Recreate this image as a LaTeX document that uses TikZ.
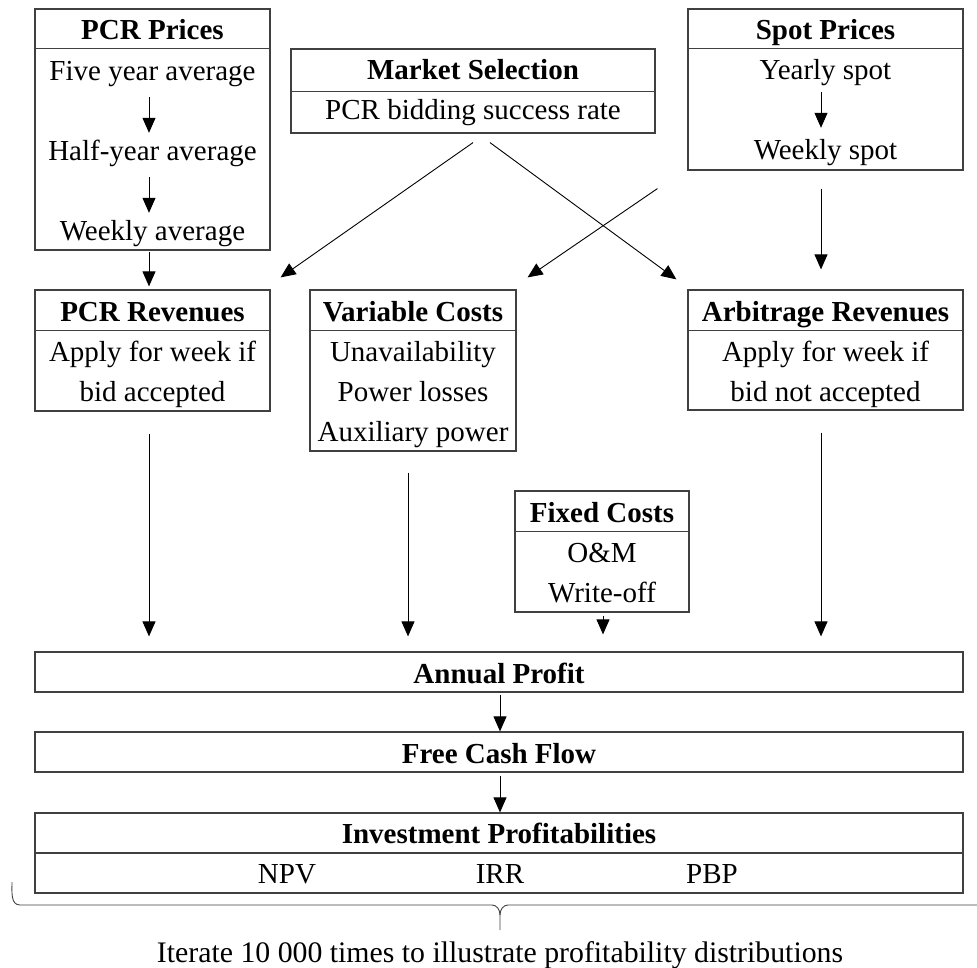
\documentclass[tikz,border=0pt]{standalone}
\usepackage{fontspec}
\setmainfont{Liberation Serif}
\usetikzlibrary{arrows.meta}

\begin{document}
\begin{tikzpicture}[x=1pt, y=1pt, font=\fontsize{29}{35}\selectfont]
    \tikzstyle{every node}+=[inner sep=0pt]
    \tikzstyle{box}=[draw=black!75, line width=1.2pt]
    \tikzstyle{rule}=[black!75, line width=1.2pt]
    \tikzstyle{txt}=[anchor=base, text height=20pt, text depth=7pt]
    \tikzstyle{head}=[txt, font=\fontsize{29}{35}\selectfont\bfseries]
    \tikzstyle{arr}=[black, line width=0.9pt, -{Triangle[length=15pt, width=13pt]}]
    \useasboundingbox (0,0) rectangle (977,-968);

    % price inputs
    \draw (152.5,-129.5) node[box, minimum width=235, minimum height=241] (pcrp) {};
    \draw [rule] ([yshift=-40]pcrp.north west) -- ([yshift=-40]pcrp.north east);
    \draw (152.5,-40) node[head] (pcrp-t) {PCR Prices};
    \draw (152.5,-81) node[txt] (pcrp-a) {Five year average};
    \draw (152.5,-161) node[txt] (pcrp-b) {Half-year average};
    \draw (152.5,-241) node[txt] (pcrp-c) {Weekly average};
    \draw [arr, shorten <=9, shorten >=8] ([xshift=-3.5]pcrp-a.south) -- ([xshift=-3.5]pcrp-b.north);
    \draw [arr, shorten <=9, shorten >=8] ([xshift=-3.5]pcrp-b.south) -- ([xshift=-3.5]pcrp-c.north);

    \draw (473,-91) node[box, minimum width=364, minimum height=84] (mkt) {};
    \draw [rule] ([yshift=-43]mkt.north west) -- ([yshift=-43]mkt.north east);
    \draw (473,-80) node[head] (mkt-t) {Market Selection};
    \draw (473,-120) node[txt] (mkt-a) {PCR bidding success rate};

    \draw (825.5,-89.5) node[box, minimum width=275, minimum height=161] (spot) {};
    \draw [rule] ([yshift=-40]spot.north west) -- ([yshift=-40]spot.north east);
    \draw (825.5,-40) node[head] (spot-t) {Spot Prices};
    \draw (825.5,-80) node[txt] (spot-a) {Yearly spot};
    \draw (825.5,-160) node[txt] (spot-b) {Weekly spot};
    \draw [arr, shorten <=5, shorten >=12] ([xshift=-4.5]spot-a.south) -- ([xshift=-4.5]spot-b.north);

    % revenues and costs
    \draw (152.5,-350.5) node[box, minimum width=235, minimum height=121] (pcrr) {};
    \draw [rule] ([yshift=-41]pcrr.north west) -- ([yshift=-41]pcrr.north east);
    \draw (152.5,-321) node[head] (pcrr-t) {PCR Revenues};
    \draw (152.5,-361) node[txt] (pcrr-a) {Apply for week if};
    \draw (152.5,-401) node[txt] (pcrr-b) {bid accepted};

    \draw (413,-370.5) node[box, minimum width=206, minimum height=161] (varc) {};
    \draw [rule] ([yshift=-41]varc.north west) -- ([yshift=-41]varc.north east);
    \draw (413,-321) node[head] (varc-t) {Variable Costs};
    \draw (413,-361) node[txt] (varc-a) {Unavailability};
    \draw (413,-401) node[txt] (varc-b) {Power losses};
    \draw (413,-441) node[txt] (varc-c) {Auxiliary power};

    \draw (825.5,-350) node[box, minimum width=275, minimum height=120] (arb) {};
    \draw [rule] ([yshift=-41]arb.north west) -- ([yshift=-41]arb.north east);
    \draw (825.5,-321) node[head] (arb-t) {Arbitrage Revenues};
    \draw (825.5,-361) node[txt] (arb-a) {Apply for week if};
    \draw (825.5,-401) node[txt] (arb-b) {bid not accepted};

    \draw (602,-551.5) node[box, minimum width=174, minimum height=121] (fixc) {};
    \draw [rule] ([yshift=-41]fixc.north west) -- ([yshift=-41]fixc.north east);
    \draw (602,-522) node[head] (fixc-t) {Fixed Costs};
    \draw (602,-562) node[txt] (fixc-a) {O\&M};
    \draw (602,-602) node[txt] (fixc-b) {Write-off};

    % results
    \draw (499,-672) node[box, minimum width=928, minimum height=40] (prof) {};
    \draw (499,-683) node[head] (prof-t) {Annual Profit};
    \draw (499,-752) node[box, minimum width=928, minimum height=40] (fcf) {};
    \draw (499,-763) node[head] (fcf-t) {Free Cash Flow};
    \draw (499,-853) node[box, minimum width=928, minimum height=80] (inv) {};
    \draw [rule] (inv.west) -- (inv.east);
    \draw (499,-843) node[head] (inv-t) {Investment Profitabilities};
    \draw (287,-883) node[txt] (npv) {NPV};
    \draw (500,-883) node[txt] (irr) {IRR};
    \draw (712,-883) node[txt] (pbp) {PBP};

    % connectors
    \draw [arr, shorten <=1, shorten >=3] ([xshift=-3.5]pcrp.south) -- ([xshift=-3.5]pcrr.north);
    \draw [arr, shorten <=18, shorten >=20] ([xshift=-4.5]spot.south) -- ([xshift=-4.5]arb.north);
    \draw [arr] ([yshift=-9]mkt.south) -- ([xshift=10, yshift=12]pcrr.north east);
    \draw [arr] ([xshift=17, yshift=-9]mkt.south) -- ([xshift=-11, yshift=10]arb.north west);
    \draw [arr] ([xshift=-30, yshift=-18]spot.south west) -- ([xshift=11, yshift=12]varc.north east);
    \draw [arr, shorten <=22, shorten >=15] ([xshift=-3.5]pcrr.south) -- ([xshift=-3.5]pcrr.south |- prof.north);
    \draw [arr, shorten <=21, shorten >=15] ([xshift=-5]varc.south) -- ([xshift=-5]varc.south |- prof.north);
    \draw [arr, shorten <=3, shorten >=17] ([xshift=1]fixc.south) -- ([xshift=1]fixc.south |- prof.north);
    \draw [arr, shorten <=22, shorten >=15] ([xshift=-4.5]arb.south) -- ([xshift=-4.5]arb.south |- prof.north);
    \draw [arr, shorten <=2] ([xshift=1]prof.south) -- ([xshift=1]fcf.north);
    \draw [arr, shorten <=3] ([xshift=1]fcf.south) -- ([xshift=1]inv.north);

    % brace
    \draw [black!75, line width=0.9pt] (12,-882) to[out=-90, in=180] (20,-905) -- (492,-905) to[out=0, in=90] (500,-915) -- (500,-930);
    \draw [black!75, line width=0.9pt] (500,-915) to[out=90, in=180] (508,-905) -- (985,-905) to[out=0, in=-90] (993,-882);
    \draw (500,-962) node[txt, font=\fontsize{29.8}{35}\selectfont] (iter) {Iterate 10 000 times to illustrate profitability distributions};
\end{tikzpicture}
\end{document}
